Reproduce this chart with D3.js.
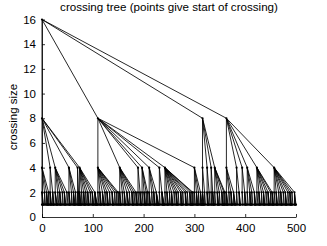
<!DOCTYPE html>
<html>
<head>
<meta charset="utf-8">
<script src="https://d3js.org/d3.v7.min.js"></script>
<style>
  body { margin: 0; background: #fff; }
  text { font-family: "Liberation Sans", Arial, sans-serif; }
</style>
</head>
<body>
<div id="chart"></div>
<script>
// start position of each crossing, one array per crossing size
const starts16 = [0];
const starts8 = [0, 110, 316, 363];
const starts4 = [0, 16, 26, 53, 70, 74, 110, 153, 189, 197, 211, 231, 242, 300,
                 316, 325, 333, 340, 363, 383, 394, 404, 423, 457];
const starts2 = [0, 5, 9, 13, 16, 21, 26, 31, 35, 40, 44, 49, 53, 58, 62, 66, 70, 72,
                 74, 78, 82, 86, 90, 95, 99, 104, 110, 114, 119, 124, 128, 133, 138, 143, 147, 150,
                 153, 158, 162, 167, 172, 177, 181, 185, 189, 193, 197, 201, 205, 208,
                 211, 216, 220, 225, 231, 236, 242, 246, 251, 255, 260, 264, 268, 273, 277, 282,
                 286, 291, 295, 297, 300, 304, 308, 312, 316, 320, 325, 329, 333, 336,
                 340, 345, 349, 354, 358, 360, 363, 368, 372, 377, 383, 388, 394, 399,
                 404, 409, 413, 418, 423, 427, 432, 436, 441, 445, 450, 453,
                 457, 461, 466, 470, 475, 479, 484, 488, 492, 497];
const starts1 = [0, 1, 2, 3, 5, 7, 9, 10, 11, 12, 13, 14, 16, 17, 18, 19, 21, 22, 23, 24,
                 26, 28, 29, 30, 31, 33, 35, 36, 37, 38, 40, 42, 44, 45, 46, 47, 49, 51,
                 53, 54, 55, 56, 58, 60, 62, 63, 64, 65, 66, 68, 70, 71, 72, 73,
                 74, 75, 76, 77, 78, 80, 82, 83, 84, 85, 86, 88, 90, 91, 92, 93, 95, 97,
                 99, 100, 101, 102, 104, 105, 106, 107, 108, 109,
                 110, 112, 114, 115, 116, 117, 119, 121, 122, 123, 124, 126, 128, 129, 130, 131,
                 133, 135, 138, 139, 140, 141, 143, 145, 147, 148, 150, 151,
                 153, 154, 155, 156, 158, 160, 162, 163, 164, 165, 167, 169, 170, 171, 172, 174,
                 177, 178, 179, 180, 181, 183, 185, 186, 187, 188, 189, 191, 193, 194, 195, 196,
                 197, 199, 201, 202, 203, 204, 205, 206, 208, 209,
                 211, 212, 213, 214, 216, 218, 220, 221, 222, 223, 225, 226, 227, 228, 229, 230,
                 231, 233, 236, 237, 238, 239, 240, 241,
                 242, 244, 246, 247, 248, 249, 251, 253, 255, 256, 257, 258, 260, 262,
                 264, 265, 266, 267, 268, 270, 273, 274, 275, 276, 277, 279, 282, 283, 284, 285,
                 286, 288, 291, 292, 293, 294, 295, 296, 297, 298,
                 300, 302, 304, 305, 306, 307, 308, 310, 312, 313, 314, 315,
                 316, 317, 318, 319, 320, 322, 325, 326, 327, 328, 329, 331, 333, 334,
                 336, 337, 338, 339, 340, 342, 345, 346, 347, 348, 349, 351, 354, 355, 356, 357,
                 358, 359, 360, 361, 363, 364, 365, 366, 368, 370, 372, 373, 374, 375,
                 377, 379, 380, 381, 383, 385, 388, 389, 390, 391, 394, 396, 399, 400, 401, 402,
                 404, 406, 409, 410, 411, 412, 413, 415, 418, 419, 420, 421,
                 423, 425, 427, 428, 429, 430, 432, 434, 436, 437, 438, 439, 441, 443,
                 445, 446, 447, 448, 450, 451, 453, 454, 455, 456,
                 457, 459, 461, 462, 463, 464, 466, 468, 470, 471, 472, 473, 475, 477,
                 479, 480, 481, 482, 484, 486, 488, 489, 490, 491, 492, 494, 497, 498, 499, 500];
const xTicks = [0, 100, 200, 300, 400, 500];
const yTicks = [0, 2, 4, 6, 8, 10, 12, 14, 16];

const levels = [
  {size: 16, starts: starts16},
  {size: 8, starts: starts8},
  {size: 4, starts: starts4},
  {size: 2, starts: starts2},
  {size: 1, starts: starts1}
];

const width = 327, height = 246;
const margin = {top: 19.5, right: 31, bottom: 29, left: 42};

const svg = d3.select("#chart").append("svg")
  .attr("width", width).attr("height", height);

const x = d3.scaleLinear().domain([0, 500]).range([margin.left, width - margin.right]);
const y = d3.scaleLinear().domain([0, 16]).range([height - margin.bottom, margin.top]);

// edges: each crossing is linked to the crossing one size up that contains its start
const edges = [];
const nodes = [];
levels.forEach(function(lv, i) {
  lv.starts.forEach(function(s) {
    nodes.push({x: s, size: lv.size});
    if (i > 0) {
      const up = levels[i - 1];
      const p = up.starts[d3.bisectRight(up.starts, s) - 1];
      edges.push({x1: p, y1: up.size, x2: s, y2: lv.size});
    }
  });
});

svg.append("g").selectAll("line")
  .data(edges)
  .join("line")
    .attr("x1", d => x(d.x1)).attr("y1", d => y(d.y1))
    .attr("x2", d => x(d.x2)).attr("y2", d => y(d.y2))
    .attr("stroke", "#000")
    .attr("stroke-width", 0.85);

svg.append("g").selectAll("circle")
  .data(nodes)
  .join("circle")
    .attr("cx", d => x(d.x)).attr("cy", d => y(d.size))
    .attr("r", 1.1)
    .attr("fill", "#000");

// axes, ticks pointing inward
const xAxis = svg.append("g")
  .attr("transform", `translate(0,${y(0)})`)
  .call(d3.axisBottom(x).tickValues(xTicks).tickSizeInner(-3).tickSizeOuter(0).tickPadding(7));
const yAxis = svg.append("g")
  .attr("transform", `translate(${x(0)},0)`)
  .call(d3.axisLeft(y).tickValues(yTicks).tickSizeInner(-3).tickSizeOuter(0).tickPadding(6));

[xAxis, yAxis].forEach(function(g) {
  g.selectAll("text").attr("font-size", 11.5).attr("fill", "#000")
    .attr("font-family", "'Liberation Sans', Arial, sans-serif");
  g.select(".domain").attr("stroke", "#000").attr("stroke-width", 0.8);
  g.selectAll(".tick line").attr("stroke", "#000").attr("stroke-width", 0.8);
});

svg.append("text")
  .attr("x", 169).attr("y", 11)
  .attr("text-anchor", "middle")
  .attr("font-size", 11.6)
  .text("crossing tree (points give start of crossing)");

svg.append("text")
  .attr("transform", "translate(17,117) rotate(-90)")
  .attr("text-anchor", "middle")
  .attr("font-size", 11.5)
  .text("crossing size");
</script>
</body>
</html>
